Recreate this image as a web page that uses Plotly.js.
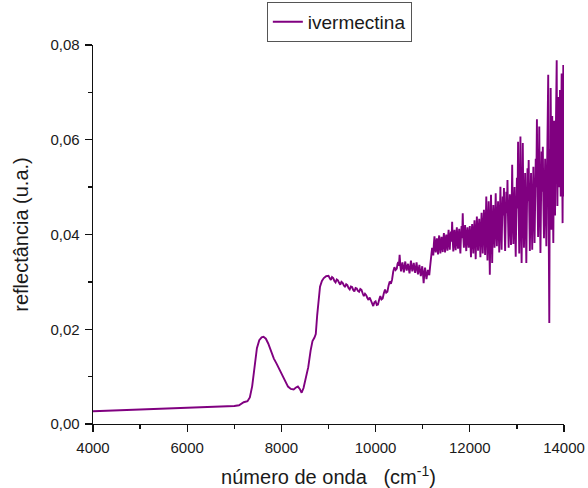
<!DOCTYPE html>
<html>
<head>
<meta charset="utf-8">
<script src="https://cdn.plot.ly/plotly-3.0.1.min.js"></script>
<style>
  html, body { margin: 0; padding: 0; background: #fff; }
  #chart { width: 588px; height: 488px; }
</style>
</head>
<body>
<div id="chart"></div>
<script>
// Baseline, the 7600 band and the rise to the 9000 plateau
const wnSmooth = [4000, 4500, 5000, 5500, 6000, 6500, 7000, 7100, 7200, 7280, 7330, 7380, 7430, 7480, 7530, 7580, 7620, 7670, 7720, 7780, 7840, 7900, 7960, 8020, 8080, 8140, 8200, 8260, 8310, 8350, 8390, 8430, 8470, 8520, 8570, 8620, 8660, 8700, 8730, 8760, 8790, 8820, 8860, 8900, 8950];
const rSmooth = [0.00268, 0.00285, 0.00300, 0.00318, 0.00335, 0.00352, 0.00380, 0.00395, 0.00460, 0.00480, 0.00560, 0.00800, 0.01250, 0.01600, 0.01770, 0.01830, 0.01840, 0.01800, 0.01700, 0.01540, 0.01380, 0.01270, 0.01150, 0.01020, 0.00900, 0.00790, 0.00740, 0.00730, 0.00770, 0.00790, 0.00740, 0.00660, 0.00760, 0.00950, 0.01200, 0.01550, 0.01750, 0.01820, 0.01900, 0.02300, 0.02700, 0.02900, 0.03020, 0.03080, 0.03120];

// 9000 - 10450: slightly noisy slope down and back up
const wnMid = [9000, 9025, 9050, 9075, 9100, 9125, 9150, 9175, 9200, 9225, 9250, 9275, 9300, 9325, 9350, 9375, 9400, 9425, 9450, 9475, 9500, 9525, 9550, 9575, 9600, 9625, 9650, 9675, 9700, 9725, 9750, 9775, 9800, 9825, 9850, 9875, 9900, 9925, 9950, 9975, 10000, 10025, 10050, 10075, 10100, 10125, 10150, 10175, 10200, 10225, 10250, 10275, 10300, 10325, 10350, 10375, 10400, 10425, 10450];
const rMid = [0.0313, 0.0308, 0.0304, 0.0310, 0.0308, 0.0302, 0.0299, 0.0305, 0.0303, 0.0298, 0.0294, 0.0300, 0.0298, 0.0293, 0.0289, 0.0295, 0.0293, 0.0287, 0.0284, 0.0290, 0.0289, 0.0283, 0.0280, 0.0287, 0.0286, 0.0281, 0.0279, 0.0285, 0.0283, 0.0276, 0.0270, 0.0275, 0.0272, 0.0266, 0.0262, 0.0267, 0.0262, 0.0254, 0.0249, 0.0257, 0.0259, 0.0251, 0.0252, 0.0262, 0.0270, 0.0263, 0.0265, 0.0276, 0.0284, 0.0277, 0.0279, 0.0292, 0.0301, 0.0296, 0.0305, 0.0322, 0.0331, 0.0325, 0.0328];

// 10465 - 11155: plateau
const wnPlateau = [10465, 10480, 10495, 10510, 10525, 10540, 10555, 10570, 10585, 10600, 10615, 10630, 10645, 10660, 10675, 10690, 10705, 10720, 10735, 10750, 10765, 10780, 10795, 10810, 10825, 10840, 10855, 10870, 10885, 10900, 10915, 10930, 10945, 10960, 10975, 10990, 11005, 11020, 11035, 11050, 11065, 11080, 11095, 11110, 11125, 11140, 11155];
const rPlateau = [0.0338, 0.0342, 0.0334, 0.0357, 0.0335, 0.0322, 0.0333, 0.0341, 0.0330, 0.0320, 0.0332, 0.0343, 0.0331, 0.0324, 0.0333, 0.0338, 0.0328, 0.0318, 0.0330, 0.0345, 0.0332, 0.0322, 0.0331, 0.0340, 0.0328, 0.0319, 0.0330, 0.0341, 0.0327, 0.0316, 0.0327, 0.0336, 0.0322, 0.0312, 0.0322, 0.0333, 0.0318, 0.0297, 0.0318, 0.0330, 0.0318, 0.0306, 0.0316, 0.0325, 0.0318, 0.0314, 0.0330];

// 11170 - 14000: noisy high wavenumber end
const wnNoisy = [11170, 11185, 11200, 11212, 11225, 11237, 11250, 11262, 11275, 11287, 11300, 11312, 11325, 11337, 11350, 11362, 11375, 11387, 11400, 11412, 11425, 11437, 11450, 11462, 11475, 11487, 11500, 11512, 11525, 11537, 11550, 11562, 11575, 11587, 11600, 11612, 11625, 11637, 11650, 11662, 11675, 11687, 11700, 11712, 11725, 11737, 11750, 11762, 11775, 11787, 11800, 11812, 11825, 11837, 11850, 11862, 11875, 11887, 11900, 11912, 11925, 11937, 11950, 11962, 11975, 11987, 12000,
  12012, 12025, 12037, 12050, 12062, 12075, 12087, 12100, 12112, 12125, 12137, 12150, 12162, 12175, 12187, 12200, 12212, 12225, 12237, 12250, 12262, 12275, 12287, 12300, 12312, 12325, 12337, 12350, 12362, 12375, 12387, 12400, 12412, 12425, 12437, 12450, 12462, 12475, 12487, 12500,
  12512, 12525, 12537, 12550, 12562, 12575, 12587, 12600, 12612, 12625, 12637, 12650, 12662, 12675, 12687, 12700, 12712, 12725, 12737, 12750, 12762, 12775, 12787, 12800, 12812, 12825, 12837, 12850, 12862, 12875, 12887, 12900, 12912, 12925, 12937, 12950, 12962, 12975, 12987, 13000,
  13012, 13025, 13037, 13050, 13062, 13075, 13087, 13100, 13112, 13125, 13137, 13150, 13162, 13175, 13187, 13200, 13212, 13225, 13237, 13250, 13262, 13275, 13287, 13300, 13312, 13325, 13337, 13350, 13362, 13375, 13387, 13400, 13412, 13425, 13437, 13450, 13462, 13475, 13487, 13500,
  13512, 13525, 13537, 13550, 13562, 13575, 13587, 13600, 13612, 13625, 13637, 13650, 13665, 13675, 13688, 13700, 13708, 13717, 13726, 13735, 13742, 13750, 13762, 13773, 13782, 13790, 13800, 13810, 13820, 13830, 13845, 13852, 13860, 13870, 13880, 13890, 13900, 13908, 13915, 13922, 13930, 13940, 13950, 13960, 13970, 13978, 13985, 13992, 14000];
const rNoisy = [0.0345, 0.0360, 0.0372, 0.0365, 0.0356, 0.0380, 0.0396, 0.0375, 0.0362, 0.0380, 0.0392, 0.0372, 0.0358, 0.0385, 0.0398, 0.0378, 0.0360, 0.0383, 0.0395, 0.0375, 0.0363, 0.0388, 0.0403, 0.0380, 0.0362, 0.0390, 0.0400, 0.0378, 0.0366, 0.0392, 0.0410, 0.0385, 0.0368, 0.0395, 0.0406, 0.0385, 0.0427, 0.0390, 0.0364, 0.0392, 0.0410, 0.0382, 0.0367, 0.0398, 0.0415, 0.0388, 0.0370, 0.0395, 0.0412, 0.0380, 0.0360, 0.0395, 0.0418, 0.0392, 0.0445, 0.0395, 0.0372, 0.0400, 0.0420, 0.0388, 0.0365, 0.0398, 0.0415, 0.0390, 0.0372, 0.0400, 0.0418,
  0.0385, 0.0352, 0.0398, 0.0422, 0.0392, 0.0360, 0.0405, 0.0430, 0.0395, 0.0348, 0.0400, 0.0438, 0.0402, 0.0366, 0.0408, 0.0433, 0.0400, 0.0352, 0.0405, 0.0446, 0.0405, 0.0360, 0.0410, 0.0452, 0.0408, 0.0357, 0.0415, 0.0480, 0.0410, 0.0345, 0.0412, 0.0470, 0.0405, 0.0315, 0.0410, 0.0484, 0.0418, 0.0340, 0.0410, 0.0462,
  0.0420, 0.0372, 0.0425, 0.0487, 0.0420, 0.0375, 0.0428, 0.0470, 0.0418, 0.0362, 0.0430, 0.0501, 0.0425, 0.0368, 0.0432, 0.0480, 0.0440, 0.0498, 0.0420, 0.0365, 0.0430, 0.0490, 0.0445, 0.0515, 0.0430, 0.0372, 0.0435, 0.0485, 0.0430, 0.0378, 0.0445, 0.0547, 0.0440, 0.0380, 0.0445, 0.0500, 0.0420, 0.0353, 0.0440, 0.0520,
  0.0455, 0.0596, 0.0450, 0.0360, 0.0460, 0.0607, 0.0440, 0.0340, 0.0450, 0.0593, 0.0455, 0.0372, 0.0450, 0.0530, 0.0440, 0.0340, 0.0445, 0.0540, 0.0470, 0.0557, 0.0450, 0.0365, 0.0455, 0.0530, 0.0450, 0.0368, 0.0460, 0.0543, 0.0460, 0.0382, 0.0465, 0.0560, 0.0500, 0.0643, 0.0480, 0.0395, 0.0490, 0.0628, 0.0470, 0.0361,
  0.0470, 0.0575, 0.0490, 0.0585, 0.0470, 0.0392, 0.0480, 0.0560, 0.0470, 0.0375, 0.0500, 0.0620, 0.0737, 0.0420, 0.0213, 0.0580, 0.0500, 0.0709, 0.0520, 0.0410, 0.0530, 0.0650, 0.0500, 0.0382, 0.0520, 0.0640, 0.0540, 0.0440, 0.0560, 0.0700, 0.0768, 0.0560, 0.0460, 0.0580, 0.0690, 0.0560, 0.0500, 0.0600, 0.0705, 0.0560, 0.0480, 0.0620, 0.0740, 0.0560, 0.0424, 0.0600, 0.0758, 0.0560, 0.0480];

const wavenumber = wnSmooth.concat(wnMid, wnPlateau, wnNoisy);
const reflectance = rSmooth.concat(rMid, rPlateau, rNoisy);

const font = 'Liberation Sans, Arial, sans-serif';

const traces = [{
  x: wavenumber,
  y: reflectance,
  type: 'scatter',
  mode: 'lines',
  name: 'ivermectina',
  line: {color: '#800080', width: 1.9}
}];

const layout = {
  width: 588,
  height: 488,
  margin: {l: 93, r: 24, t: 45, b: 64},
  separators: ',.',
  font: {family: font, color: '#1a1a1a', size: 15},
  showlegend: true,
  legend: {
    xref: 'paper', yref: 'container',
    x: 0.523, y: 0.996, xanchor: 'center', yanchor: 'top',
    bordercolor: '#555', borderwidth: 1, bgcolor: '#fff',
    font: {family: font, size: 19, color: '#1a1a1a'},
    tracegroupgap: 0
  },
  xaxis: {
    range: [4000, 14000],
    dtick: 2000,
    tickformat: 'd',
    ticks: 'outside', ticklen: 7, tickwidth: 1.3, tickcolor: '#111',
    ticklabelstandoff: 3,
    minor: {dtick: 1000, ticks: 'outside', ticklen: 4, tickwidth: 1.3, tickcolor: '#111', showgrid: false},
    showline: true, linecolor: '#111', linewidth: 1.3,
    showgrid: false, zeroline: false,
    tickfont: {family: font, size: 15, color: '#1a1a1a'},
    title: {text: 'número de onda\u00a0\u00a0\u00a0(cm<sup>-1</sup>)', font: {family: font, size: 20, color: '#1a1a1a'}, standoff: 15},
    automargin: false
  },
  yaxis: {
    range: [0, 0.08],
    dtick: 0.02,
    tickformat: '.2f',
    ticks: 'outside', ticklen: 7, tickwidth: 1.3, tickcolor: '#111',
    ticklabelstandoff: 2,
    minor: {dtick: 0.01, ticks: 'outside', ticklen: 4, tickwidth: 1.3, tickcolor: '#111', showgrid: false},
    showline: true, linecolor: '#111', linewidth: 1.3,
    showgrid: false, zeroline: false,
    tickfont: {family: font, size: 15, color: '#1a1a1a'},
    title: {text: 'reflectância (u.a.)', font: {family: font, size: 20, color: '#1a1a1a'}, standoff: 16},
    automargin: false
  },
  paper_bgcolor: '#fff',
  plot_bgcolor: '#fff'
};

Plotly.newPlot('chart', traces, layout, {displayModeBar: false, staticPlot: true});
</script>
</body>
</html>
